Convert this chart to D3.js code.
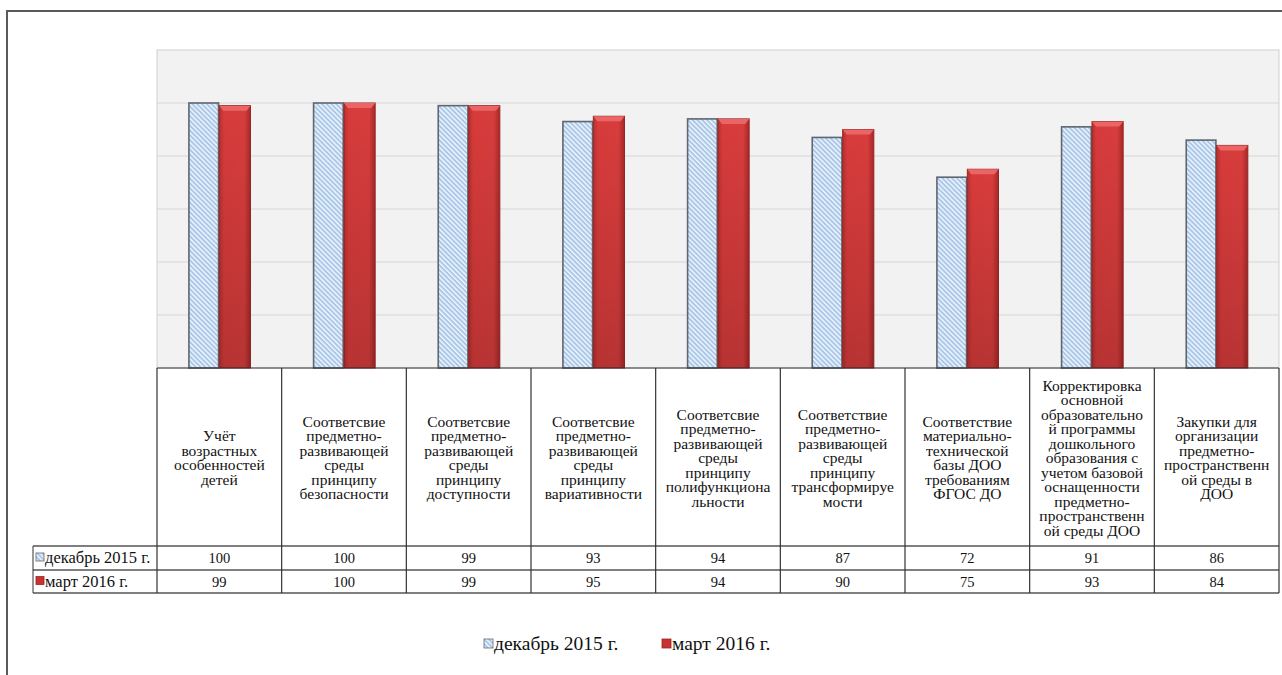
<!DOCTYPE html>
<html lang="ru">
<head>
<meta charset="utf-8">
<title>chart</title>
<script src="https://cdn.jsdelivr.net/npm/d3@7"></script>
<style>
  body { margin: 0; background: #fff; }
  text { font-family: "Liberation Serif", "Times New Roman", serif; fill: #111; }
</style>
</head>
<body>
<script>
// data
var categories = [
  "Учёт\nвозрастных\nособенностей\nдетей",
  "Соответсвие\nпредметно-\nразвивающей\nсреды\nпринципу\nбезопасности",
  "Соответсвие\nпредметно-\nразвивающей\nсреды\nпринципу\nдоступности",
  "Соответсвие\nпредметно-\nразвивающей\nсреды\nпринципу\nвариативности",
  "Соответсвие\nпредметно-\nразвивающей\nсреды\nпринципу\nполифункциона\nльности",
  "Соответствие\nпредметно-\nразвивающей\nсреды\nпринципу\nтрансформируе\nмости",
  "Соответствие\nматериально-\nтехнической\nбазы ДОО\nтребованиям\nФГОС ДО",
  "Корректировка\nосновной\nобразовательно\nй программы\nдошкольного\nобразования с\nучетом базовой\nоснащенности\nпредметно-\nпространственн\nой среды ДОО",
  "Закупки для\nорганизации\nпредметно-\nпространственн\nой среды в\nДОО"
]
var seriesNames = ["декабрь 2015 г.", "март 2016 г."]
var dec2015 = [100, 100, 99, 93, 94, 87, 72, 91, 86]
var mar2016 = [99, 100, 99, 95, 94, 90, 75, 93, 84]
var yTicks = [0, 20, 40, 60, 80, 100, 120]

var values = [dec2015, mar2016]

var svg = d3.select("body").append("svg").attr("width", 1282).attr("height", 675)
var defs = svg.append("defs")

// hatched blue
var pat = defs.append("pattern")
  .attr("id", "hatch")
  .attr("patternUnits", "userSpaceOnUse")
  .attr("width", 3.4).attr("height", 3.4)
  .attr("patternTransform", "rotate(-45)")
pat.append("rect").attr("width", 3.4).attr("height", 3.4).attr("fill", "#a9c7e8")
pat.append("rect").attr("width", 1.4).attr("height", 3.4).attr("fill", "#f2f7fd")

// red bar gradient
var rg = defs.append("linearGradient").attr("id", "redg").attr("x1", 0).attr("x2", 1).attr("y1", 0).attr("y2", 0)
rg.append("stop").attr("offset", "0%").attr("stop-color", "#b83030")
rg.append("stop").attr("offset", "15%").attr("stop-color", "#d83b3b")
rg.append("stop").attr("offset", "80%").attr("stop-color", "#d83d3d")
rg.append("stop").attr("offset", "100%").attr("stop-color", "#a82828")
var rv = defs.append("linearGradient").attr("id", "redv").attr("x1", 0).attr("x2", 0).attr("y1", 0).attr("y2", 1)
rv.append("stop").attr("offset", "0%").attr("stop-color", "#000").attr("stop-opacity", 0)
rv.append("stop").attr("offset", "100%").attr("stop-color", "#000").attr("stop-opacity", 0.15)

// outer frame
svg.append("line").attr("x1", 6).attr("x2", 1282).attr("y1", 11).attr("y2", 11)
  .attr("stroke", "#5a5a5a").attr("stroke-width", 2)
svg.append("line").attr("x1", 7).attr("x2", 7).attr("y1", 10).attr("y2", 675)
  .attr("stroke", "#5a5a5a").attr("stroke-width", 2)

var pLeft = 157, pRight = 1279, pTop = 50, pBottom = 368

var x0 = d3.scaleBand().domain(d3.range(categories.length)).range([pLeft, pRight])
var x1 = d3.scaleBand().domain(d3.range(seriesNames.length))
  .range([x0.bandwidth() * 0.25, x0.bandwidth() * 0.75])
var y = d3.scaleLinear().domain([0, 120]).range([pBottom, pTop])

// plot area
svg.append("rect").attr("x", pLeft).attr("y", pTop).attr("width", pRight - pLeft).attr("height", pBottom - pTop)
  .attr("fill", "#f2f2f2").attr("stroke", "#d0d0d0")

svg.selectAll(".grid").data(yTicks.slice(1, -1)).enter().append("line")
  .attr("x1", pLeft).attr("x2", pRight)
  .attr("y1", function(d) { return y(d) }).attr("y2", function(d) { return y(d) })
  .attr("stroke", "#d6d6d6")

// bars
var cat = svg.selectAll(".cat").data(categories).enter().append("g")
  .attr("transform", function(d, i) { return "translate(" + x0(i) + ",0)" })

cat.each(function(d, i) {
  var g = d3.select(this)
  var bw = x1.bandwidth()
  // blue
  var v = dec2015[i]
  g.append("rect")
    .attr("x", x1(0) + 0.75).attr("y", y(v)).attr("width", bw - 1.5).attr("height", y(0) - y(v))
    .attr("fill", "url(#hatch)").attr("stroke", "#5f6670").attr("stroke-width", 1.6)
  // red
  var w = mar2016[i]
  var rx = x1(1), ry = y(w), rh = y(0) - y(w)
  g.append("rect").attr("x", rx).attr("y", ry).attr("width", bw).attr("height", rh)
    .attr("fill", "url(#redg)").attr("stroke", "#9a2424").attr("stroke-width", 1)
  g.append("rect").attr("x", rx).attr("y", ry).attr("width", bw).attr("height", rh)
    .attr("fill", "url(#redv)")
  g.append("path")
    .attr("d", "M" + rx + "," + ry + "h" + bw + "l-4,5h" + (-(bw - 8)) + "z")
    .attr("fill", "#ea6666")
})

// table
var hdrBottom = 546, row1 = 570, row2 = 593, labLeft = 33
var tbl = svg.append("g")
var lineCol = "#333"

tbl.append("line").attr("x1", pLeft).attr("x2", pRight).attr("y1", pBottom).attr("y2", pBottom).attr("stroke", lineCol)
;[hdrBottom, row1, row2].forEach(function(yy) {
  tbl.append("line").attr("x1", labLeft).attr("x2", pRight).attr("y1", yy).attr("y2", yy)
    .attr("stroke", "#555").attr("stroke-width", 1.6)
})
tbl.append("line").attr("x1", labLeft).attr("x2", labLeft).attr("y1", hdrBottom).attr("y2", row2).attr("stroke", lineCol)
d3.range(categories.length + 1).forEach(function(i) {
  var xx = i < categories.length ? x0(i) : pRight
  tbl.append("line").attr("x1", xx).attr("x2", xx).attr("y1", pBottom).attr("y2", row2)
    .attr("stroke", lineCol).attr("stroke-width", 1.2)
})

// header text
categories.forEach(function(c, i) {
  var lines = c.split("\n")
  var lh = 14.5
  var cy = (pBottom + hdrBottom) / 2 + 1
  var y0 = cy - (lines.length - 1) * lh / 2 + 5
  var t = tbl.append("text").attr("text-anchor", "middle").attr("font-size", 15.5)
  lines.forEach(function(l, k) {
    t.append("tspan").attr("x", x0(i) + x0.bandwidth() / 2).attr("y", y0 + k * lh).text(l)
  })
})

// value rows
var rowY = [(hdrBottom + row1) / 2 + 5, (row1 + row2) / 2 + 5]
values.forEach(function(vals, s) {
  vals.forEach(function(v, i) {
    tbl.append("text").attr("x", x0(i) + x0.bandwidth() / 2).attr("y", rowY[s])
      .attr("text-anchor", "middle").attr("font-size", 14.5).text(v)
  })
  tbl.append("rect").attr("x", labLeft + 3).attr("y", rowY[s] - 10).attr("width", 8).attr("height", 8)
    .attr("fill", s == 0 ? "url(#hatch)" : "#c83232").attr("stroke", s == 0 ? "#5f6670" : "#9a2424").attr("stroke-width", 0.8)
  tbl.append("text").attr("x", labLeft + 12).attr("y", rowY[s])
    .attr("font-size", 16.5).text(seriesNames[s])
})

// legend
var legX = [484, 662]
seriesNames.forEach(function(n, s) {
  svg.append("rect").attr("x", legX[s]).attr("y", 639).attr("width", 9).attr("height", 9)
    .attr("fill", s == 0 ? "url(#hatch)" : "#c83232").attr("stroke", s == 0 ? "#5f6670" : "#9a2424").attr("stroke-width", 0.8)
  svg.append("text").attr("x", legX[s] + 10).attr("y", 650).attr("font-size", 19.5).text(n)
})
</script>
</body>
</html>
